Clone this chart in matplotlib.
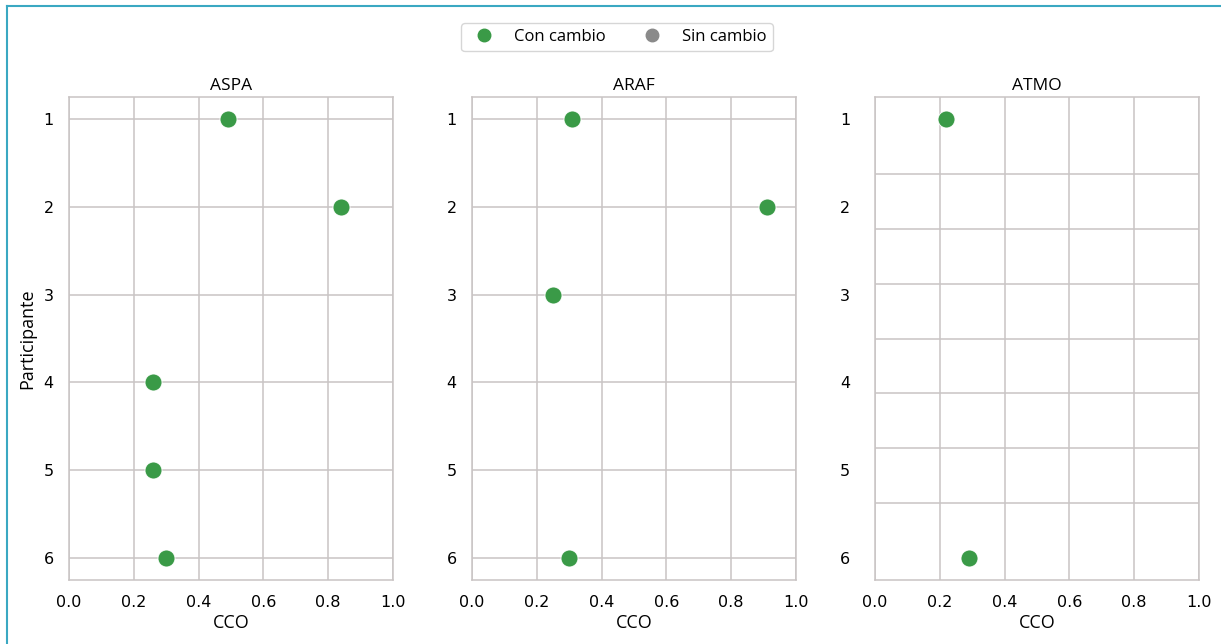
import numpy as np
import matplotlib
matplotlib.use('Agg')
import matplotlib.pyplot as plt
from matplotlib.lines import Line2D

# data
paneles = ['ASPA', 'ARAF', 'ATMO']
participantes = [1, 2, 3, 4, 5, 6]

aspa_part = [1, 2, 4, 5, 6]
aspa_cco = [0.49, 0.84, 0.26, 0.26, 0.30]

araf_part = [1, 2, 3, 6]
araf_cco = [0.31, 0.91, 0.25, 0.30]

atmo_part = [1, 6]
atmo_cco = [0.22, 0.29]

datos = {
    'ASPA': (aspa_part, aspa_cco),
    'ARAF': (araf_part, araf_cco),
    'ATMO': (atmo_part, atmo_cco),
}

verde = '#3a9a47'
gris = '#8a8a8a'
grid_col = '#c9c4c4'
sans = ['Open Sans', 'DejaVu Sans']

plt.rcParams['font.family'] = ['DejaVu Sans']

fig = plt.figure(figsize=(12.21, 6.44), dpi=100)

lefts = [69, 472, 875]
ancho = 324
bottom = (644 - 580) / 644
alto = (580 - 97) / 644

ejes = []
for i, nombre in enumerate(paneles):
    ax = fig.add_axes([lefts[i] / 1221, bottom, ancho / 1221, alto])
    part, cco = datos[nombre]
    ax.scatter(cco, part, s=150, color=verde, edgecolors='white', linewidths=0.6, zorder=3)
    ax.set_xlim(0, 1)
    ax.set_ylim(6.25, 0.75)
    ax.set_xticks(np.arange(0, 1.01, 0.2))
    ax.set_xticklabels(['%.1f' % v for v in np.arange(0, 1.01, 0.2)])
    ax.set_yticks(participantes)
    ax.tick_params(axis='both', length=0, labelsize=11.5)
    ax.tick_params(axis='x', pad=11)
    ax.tick_params(axis='y', pad=11 if i < 2 else 18)
    ax.set_axisbelow(True)
    if nombre == 'ATMO':
        # the grid in this panel does not follow the labels
        ax.set_yticks(np.linspace(1, 6, 9), minor=True)
        ax.tick_params(axis='y', which='minor', length=0)
        ax.grid(True, axis='y', which='minor', color=grid_col, linewidth=1.1)
        ax.grid(True, axis='x', which='major', color=grid_col, linewidth=1.1)
    else:
        ax.grid(True, color=grid_col, linewidth=1.1)
    for sp in ax.spines.values():
        sp.set_color(grid_col)
        sp.set_linewidth(1.1)
    ax.set_title(nombre, fontsize=12.5, pad=5, family=sans)
    ax.set_xlabel('CCO', fontsize=13, labelpad=3, family=sans)
    ejes.append(ax)

ejes[0].set_ylabel('Participante', fontsize=13, labelpad=5, family=sans)

handles = [
    Line2D([], [], marker='o', linestyle='none', markersize=9, color=verde, label='Con cambio'),
    Line2D([], [], marker='o', linestyle='none', markersize=9, color=gris, label='Sin cambio'),
]
fig.legend(handles=handles, loc='center', bbox_to_anchor=(617 / 1221, 1 - 37 / 644), ncol=2,
           frameon=True, handletextpad=0.8, columnspacing=1.8,
           edgecolor='#cccccc', borderpad=0.35, prop={'family': sans, 'size': 12})

# teal frame on the top and left side
teal = '#3aa8c2'
fig.add_artist(Line2D([7 / 1221, 1], [1 - 6 / 644, 1 - 6 / 644], transform=fig.transFigure, color=teal, linewidth=1.5))
fig.add_artist(Line2D([7 / 1221, 7 / 1221], [0, 1 - 6 / 644], transform=fig.transFigure, color=teal, linewidth=1.5))

fig.savefig('out.png', dpi=100)
